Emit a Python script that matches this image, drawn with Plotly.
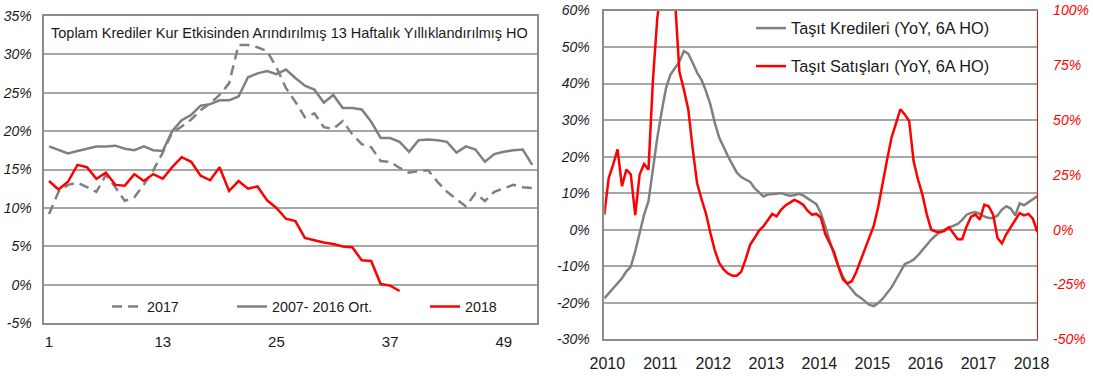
import plotly.graph_objects as go

W, H = 1093, 377

# ---------------- left panel data (weekly, %) ----------------
weeks = list(range(1, 53))
week_ticks = [1, 13, 25, 37, 49]
s2017 = [9.2, 12.1, 13.0, 13.3, 12.7, 12.1, 14.3, 12.7, 10.9, 11.4,
         13.0, 14.9, 17.2, 19.8, 20.6, 21.5, 22.7, 23.6, 24.7, 26.2,
         31.2, 31.2, 30.9, 30.4, 28.3, 25.6, 23.8, 21.8, 22.3, 20.5,
         20.3, 21.3, 19.6, 18.3, 17.9, 16.1, 16.0, 15.2, 14.6, 14.8,
         14.9, 13.4, 12.1, 11.2, 10.2, 11.9, 10.9, 12.1, 12.5, 13.0,
         12.7, 12.6]
avg0716 = [18.0, 17.5, 17.1, 17.4, 17.7, 18.0, 18.0, 18.1, 17.7, 17.5,
           18.0, 17.5, 17.4, 20.0, 21.4, 22.1, 23.3, 23.5, 24.0, 24.0,
           24.5, 27.0, 27.5, 27.8, 27.4, 28.0, 26.9, 25.9, 25.4, 23.7,
           24.7, 23.0, 23.0, 22.8, 21.2, 19.1, 19.1, 18.6, 17.3, 18.8,
           18.9, 18.8, 18.6, 17.2, 18.0, 17.6, 16.0, 17.0, 17.3, 17.5,
           17.6, 15.6]
s2018 = [13.5, 12.4, 13.4, 15.6, 15.3, 13.8, 14.6, 13.0, 12.9, 14.4,
         13.5, 14.4, 13.8, 15.3, 16.6, 16.0, 14.2, 13.6, 15.3, 12.2,
         13.5, 12.5, 12.8, 11.0, 10.0, 8.6, 8.3, 6.1, 5.8, 5.5,
         5.3, 5.0, 4.9, 3.2, 3.1, 0.1, -0.1, -0.8]
left_yticks = [-5, 0, 5, 10, 15, 20, 25, 30, 35]
left_ytext = ["-5%", "0%", "5%", "10%", "15%", "20%", "25%", "30%", "35%"]

# ---------------- right panel data (monthly, %) ----------------
start_year = 2009.943  # first monthly observation position on the time axis
tasit_kredi = [-18.8, -17.4, -16.0, -14.6, -13.3, -11.4, -10.1, -5.9, -0.5, 4.1,
               7.8, 16.9, 25.2, 32.5, 38.9, 42.5, 44.4, 46.0, 48.9, 48.2,
               45.7, 43.0, 41.0, 38.0, 34.3, 29.3, 25.2, 22.4, 20.1, 17.8,
               15.6, 14.4, 13.7, 13.1, 11.4, 10.1, 9.1, 9.6, 9.8, 9.8,
               10.0, 9.6, 9.3, 9.4, 9.8, 9.4, 8.5, 7.8, 7.0, 4.6,
               0.9, -3.2, -6.9, -10.1, -12.8, -14.9, -16.5, -17.8, -18.6, -19.7,
               -20.6, -20.9, -20.1, -18.9, -17.5, -15.8, -13.7, -11.4, -9.4, -8.9,
               -8.2, -7.0, -5.5, -4.1, -2.7, -1.6, -0.5, 0.0, 0.6, 1.1,
               1.6, 2.7, 4.1, 4.6, 4.8, 4.3, 3.6, 3.2, 3.2, 3.9,
               5.5, 6.4, 5.8, 3.9, 7.2, 6.7, 7.5, 8.4, 9.2]
tasit_satis = [6.9, 23.6, 29.7, 36.6, 19.8, 27.4, 25.2, 6.6, 25.2, 30.0,
               27.4, 67.9, 96.8, 112.0, 120.0, 118.0, 105.0, 72.0, 64.0, 55.0,
               37.0, 21.2, 14.0, 7.5, -1.4, -9.3, -15.2, -18.1, -20.0, -21.0,
               -21.0, -19.1, -13.4, -6.9, -3.8, -0.5, 1.5, 4.6, 7.2, 6.1,
               9.1, 11.1, 12.5, 13.6, 12.7, 11.4, 8.7, 6.9, 7.2, 5.6,
               -2.0, -6.1, -10.2, -16.9, -22.6, -24.5, -23.5, -19.4, -14.0, -8.5,
               -3.8, 1.8, 10.5, 22.1, 31.9, 41.9, 48.0, 54.9, 52.6, 49.6,
               31.3, 22.9, 16.0, 6.9, 0.0, -0.8, -1.2, -0.5, 1.1, -1.5,
               -4.3, -4.3, 1.5, 5.9, 6.9, 4.6, 11.4, 10.7, 6.9, -3.8,
               -6.3, -2.0, 1.1, 4.1, 7.6, 6.5, 7.2, 5.0, -1.0]
months_x = [start_year + i / 12 for i in range(len(tasit_kredi))]
year_ticks = list(range(2010, 2019))
right_yticks = [-30, -20, -10, 0, 10, 20, 30, 40, 50, 60]
right_ytext = ["-30%", "-20%", "-10%", "0%", "10%", "20%", "30%", "40%", "50%", "60%"]
right_y2ticks = [-50, -25, 0, 25, 50, 75, 100]
right_y2text = ["-50%", "-25%", "0%", "25%", "50%", "75%", "100%"]

GRAY = "#808080"
RED = "#FF0000"
GRID = "#A6A6A6"
AXL = "#8C8C8C"
TXT = "#1A1A1A"
SANS = "Liberation Sans, Arial, sans-serif"

fig = go.Figure()
fig.add_trace(go.Scatter(x=weeks, y=s2017, mode="lines", name="2017",
                         line=dict(color=GRAY, width=2.5, dash="10px,6px"),
                         xaxis="x", yaxis="y", legend="legend"))
fig.add_trace(go.Scatter(x=weeks, y=avg0716, mode="lines", name="2007- 2016 Ort.",
                         line=dict(color=GRAY, width=2.5),
                         xaxis="x", yaxis="y", legend="legend2"))
fig.add_trace(go.Scatter(x=weeks[:len(s2018)], y=s2018, mode="lines", name="2018",
                         line=dict(color=RED, width=2.5),
                         xaxis="x", yaxis="y", legend="legend3"))
fig.add_trace(go.Scatter(x=months_x, y=tasit_kredi, mode="lines",
                         name="Taşıt Kredileri (YoY, 6A HO)",
                         line=dict(color=GRAY, width=2.5),
                         xaxis="x2", yaxis="y2", legend="legend4"))
fig.add_trace(go.Scatter(x=months_x, y=tasit_satis, mode="lines",
                         name="Taşıt Satışları (YoY, 6A HO)",
                         line=dict(color=RED, width=2.5),
                         xaxis="x2", yaxis="y3", legend="legend5"))

def px(x):
    return x / W

def py(y):
    return 1 - y / H

def leg(x, y, size):
    return dict(x=px(x), y=py(y), xanchor="left", yanchor="middle",
                orientation="h", bgcolor="rgba(0,0,0,0)", borderwidth=0,
                font=dict(family=SANS, size=size, color=TXT))

fig.update_layout(
    width=W, height=H, autosize=False,
    margin=dict(l=0, r=0, t=0, b=0),
    paper_bgcolor="white", plot_bgcolor="white",
    showlegend=True,
    xaxis=dict(domain=[px(44.3), px(537)], range=[0.5, 52.5],
               tickvals=week_ticks, ticktext=[str(v) for v in week_ticks],
               showgrid=False, zeroline=False, showline=True, mirror=True,
               linecolor=AXL, linewidth=1.5, ticks="", automargin=False,
               tickfont=dict(family=SANS, size=15, color=TXT),
               ticklabelstandoff=4, anchor="y"),
    yaxis=dict(domain=[py(323.3), py(15.7)], range=[-5, 35],
               tickvals=left_yticks, ticktext=left_ytext,
               showgrid=True, gridcolor=GRID, gridwidth=1.5, zeroline=False,
               showline=True, mirror=True, linecolor=AXL, linewidth=1.5,
               ticks="", automargin=False, ticklabelstandoff=8,
               tickfont=dict(family=SANS, size=14, color=TXT, style="italic"),
               anchor="x"),
    xaxis2=dict(domain=[px(604.3), px(1037.3)],
                range=[start_year, start_year + (len(tasit_kredi) - 1) / 12],
                tickvals=year_ticks, ticktext=[str(v) for v in year_ticks],
                showgrid=False, zeroline=False, showline=True, mirror=True,
                linecolor=AXL, linewidth=1.5, ticks="", automargin=False,
                tickfont=dict(family=SANS, size=16, color=TXT),
                ticklabelstandoff=9, anchor="y2"),
    yaxis2=dict(domain=[py(339.3), py(10.5)], range=[-30, 60],
                tickvals=right_yticks, ticktext=right_ytext,
                showgrid=True, gridcolor=GRID, gridwidth=1.5, zeroline=False,
                showline=True, linecolor=AXL, linewidth=1.5,
                ticks="", automargin=False, ticklabelstandoff=10,
                tickfont=dict(family=SANS, size=14, color=TXT, style="italic"),
                anchor="x2"),
    yaxis3=dict(range=[-50, 100], overlaying="y2", side="right", anchor="x2",
                tickvals=right_y2ticks, ticktext=right_y2text,
                showgrid=False, zeroline=False, showline=True,
                linecolor=RED, linewidth=1, ticks="", automargin=False,
                ticklabelstandoff=12,
                tickfont=dict(family=SANS, size=14, color=RED, style="italic")),
    legend=leg(107, 306.7, 14.3),
    legend2=leg(232, 306.7, 14.3),
    legend3=leg(425, 306.7, 14.3),
    legend4=leg(751, 28.5, 16.3),
    legend5=leg(751, 66.5, 16.3),
    annotations=[dict(text="Toplam Krediler Kur Etkisinden Arındırılmış 13 Haftalık Yıllıklandırılmış HO",
                      x=px(289), y=py(33.3), xref="paper", yref="paper",
                      xanchor="center", yanchor="middle", showarrow=False,
                      font=dict(family=SANS, size=14.5, color=TXT))],
)

fig.write_html("out.html", config={"displayModeBar": False},
               post_script="document.body.style.margin='0';")
